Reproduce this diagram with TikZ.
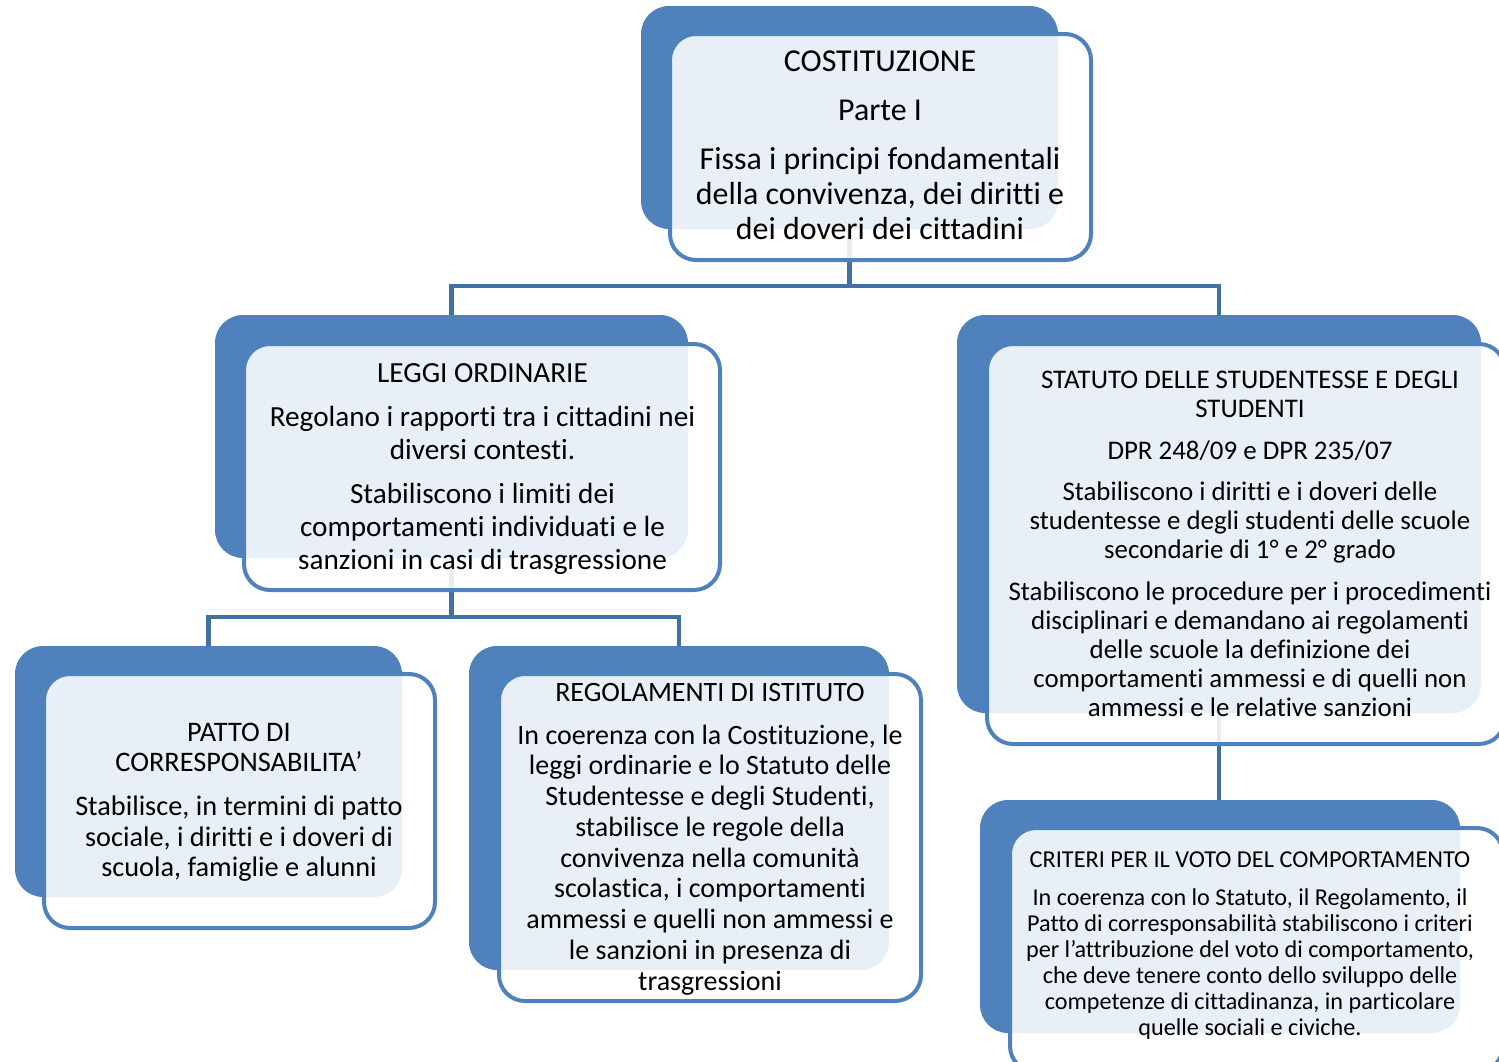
\documentclass[tikz,border=0pt]{standalone}
\usepackage{fontspec}
\setmainfont{Carlito}[Ligatures={NoCommon}]
\definecolor{accent}{RGB}{79,129,189}
\definecolor{connc}{RGB}{65,113,160}
\begin{document}
\begin{tikzpicture}[x=1pt,y=-1pt,
  backbox/.style={rectangle, fill=accent, rounded corners=28pt, inner sep=0pt, outer sep=0pt},
  frontbox/.style={rectangle, draw=accent, line width=4pt, fill=white, fill opacity=0.88, rounded corners=26pt, inner sep=0pt, outer sep=0pt},
  conn/.style={draw=connc, line width=4.5pt},
  txt/.style={align=center, inner sep=0pt, outer sep=0pt, anchor=north, text=black}]
\useasboundingbox (0,0) rectangle (1499,1061);
\clip (0,0) rectangle (1499,1061);

% back boxes
\node[backbox, minimum width=417pt, minimum height=223pt] (bcost) at (849.5,117.5) {};
\node[backbox, minimum width=473pt, minimum height=243pt] (bleggi) at (451.5,436.5) {};
\node[backbox, minimum width=524pt, minimum height=398pt] (bstat) at (1219,514) {};
\node[backbox, minimum width=387pt, minimum height=251pt] (bpatto) at (208.5,771.5) {};
\node[backbox, minimum width=420pt, minimum height=324pt] (bregol) at (679,808) {};
\node[backbox, minimum width=480pt, minimum height=233pt] (bcrit) at (1220,916.5) {};

% connectors
\coordinate (j1) at (849.5,286);
\coordinate (j2) at (451.5,617);
\draw[conn] (bcost.south) -- (j1);
\draw[conn] (bleggi.north) |- (j1) -| (bstat.north);
\draw[conn] (bleggi.south) -- (j2);
\draw[conn] (bpatto.north) |- (j2) -| (bregol.north);
\draw[conn] (bstat.south) -- (bstat.south |- bcrit.north);

% front boxes
\node[frontbox, minimum width=421pt, minimum height=226pt] (fcost) at (880.5,147) {};
\node[frontbox, minimum width=476pt, minimum height=246pt] (fleggi) at (482,467) {};
\node[frontbox, minimum width=518pt, minimum height=400pt] (fstat) at (1246,544) {};
\node[frontbox, minimum width=391pt, minimum height=254pt] (fpatto) at (239.5,801) {};
\node[frontbox, minimum width=422pt, minimum height=327pt] (fregol) at (710,837.5) {};
\node[frontbox, minimum width=493pt, minimum height=244pt] (fcrit) at (1256.5,950) {};

% texts
\node[txt, font=\fontsize{31.9}{35}\selectfont] (tcost) at (880,50.6)
  {COSTITUZIONE\\[14pt]Parte I\\[14pt]Fissa i principi fondamentali\\della convivenza, dei diritti e\\dei doveri dei cittadini};
\node[txt, font=\fontsize{29.2}{33}\selectfont] (tleggi) at (482.5,363.5)
  {LEGGI ORDINARIE\\[11pt]Regolano i rapporti tra i cittadini nei\\diversi contesti.\\[11pt]Stabiliscono i limiti dei\\comportamenti individuati e le\\sanzioni in casi di trasgressione};
\node[txt, font=\fontsize{28.3}{30.5}\selectfont] (tpatto) at (239,722.9)
  {PATTO DI\\CORRESPONSABILITA’\\[13.5pt]Stabilisce, in termini di patto\\sociale, i diritti e i doveri di\\scuola, famiglie e alunni};
\node[txt, font=\fontsize{28}{30.75}\selectfont] (tregol) at (710,682.9)
  {REGOLAMENTI DI ISTITUTO\\[12.25pt]In coerenza con la Costituzione, le\\leggi ordinarie e lo Statuto delle\\Studentesse e degli Studenti,\\stabilisce le regole della\\convivenza nella comunità\\scolastica, i comportamenti\\ammessi e quelli non ammessi e\\le sanzioni in presenza di\\trasgressioni};
\node[txt, font=\fontsize{26.9}{29}\selectfont] (tstat) at (1250,371.3)
  {STATUTO DELLE STUDENTESSE E DEGLI\\STUDENTI\\[12.5pt]DPR 248/09 e DPR 235/07\\[12.5pt]Stabiliscono i diritti e i doveri delle\\studentesse e degli studenti delle scuole\\secondarie di 1° e 2° grado\\[12.5pt]Stabiliscono le procedure per i procedimenti\\disciplinari e demandano ai regolamenti\\delle scuole la definizione dei\\comportamenti ammessi e di quelli non\\ammessi e le relative sanzioni};
\node[txt, font=\fontsize{24.2}{26}\selectfont] (tcrit) at (1250,852.1)
  {{\fontsize{24.3}{26}\selectfont CRITERI PER IL VOTO DEL COMPORTAMENTO}\\[12pt]In coerenza con lo Statuto, il Regolamento, il\\Patto di corresponsabilità stabiliscono i criteri\\per l’attribuzione del voto di comportamento,\\che deve tenere conto dello sviluppo delle\\competenze di cittadinanza, in particolare\\quelle sociali e civiche.};
\end{tikzpicture}
\end{document}
